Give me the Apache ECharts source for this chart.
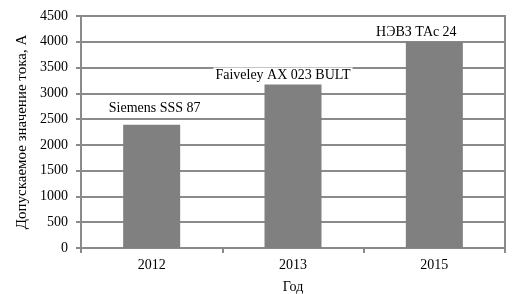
<!DOCTYPE html>
<html><head><meta charset="utf-8">
<script src="https://cdn.jsdelivr.net/npm/echarts@6/dist/echarts.min.js"></script>
<style>html,body{margin:0;padding:0;background:#fff}#c{width:521px;height:294px}</style>
</head><body><div id="c"></div>
<script>
const categories = ['2012', '2013', '2015'];
const values = [2390, 3170, 4000];
const barLabels = ['Siemens SSS 87', 'Faiveley AX 023 BULT', 'НЭВЗ ТАс 24'];
const yTitle = 'Допускаемое значение тока, А';
const xTitle = 'Год';
const labelOffsets = [[3, -3], [-10, 4], [-18, 4]];

const FONT = 'Liberation Serif';
const GRAY = '#8a8a8a';
const chart = echarts.init(document.getElementById('c'), null, {renderer: 'canvas'});
chart.setOption({
  animation: false,
  textStyle: {fontFamily: FONT},
  grid: {left: 81, right: 16, top: 16, bottom: 46, show: true, borderColor: GRAY, borderWidth: 2,
         backgroundColor: 'transparent', containLabel: false, outerBoundsMode: 'none'},
  xAxis: {
    type: 'category', data: categories,
    name: xTitle, nameLocation: 'middle', nameGap: 32,
    nameTextStyle: {fontFamily: FONT, fontSize: 14, color: '#000'},
    axisLine: {lineStyle: {color: GRAY, width: 2}},
    axisTick: {show: true, length: 5, lineStyle: {color: GRAY, width: 2}},
    axisLabel: {fontFamily: FONT, fontSize: 14, color: '#000', margin: 10},
    splitLine: {show: false}
  },
  yAxis: {
    type: 'value', min: 0, max: 4500, interval: 500,
    name: yTitle, nameLocation: 'middle', nameGap: 50, nameRotate: 90,
    nameTextStyle: {fontFamily: FONT, fontSize: 15, color: '#000'},
    axisLine: {show: true, lineStyle: {color: GRAY, width: 2}},
    axisTick: {show: true, length: 5, lineStyle: {color: GRAY, width: 2}},
    axisLabel: {fontFamily: FONT, fontSize: 14, color: '#000', margin: 13, formatter: v => String(v)},
    splitLine: {show: true, lineStyle: {color: GRAY, width: 2}}
  },
  series: [{
    type: 'bar',
    barWidth: 57,
    itemStyle: {color: '#808080'},
    label: {
      show: true, position: 'top',
      backgroundColor: '#fff', padding: [1, 2],
      rich: {t: {fontFamily: FONT, fontSize: 14, color: '#000'}}
    },
    data: values.map((v, i) => ({
      value: v,
      label: {formatter: '{t|' + barLabels[i] + '}', offset: labelOffsets[i]}
    }))
  }]
});
</script></body></html>
